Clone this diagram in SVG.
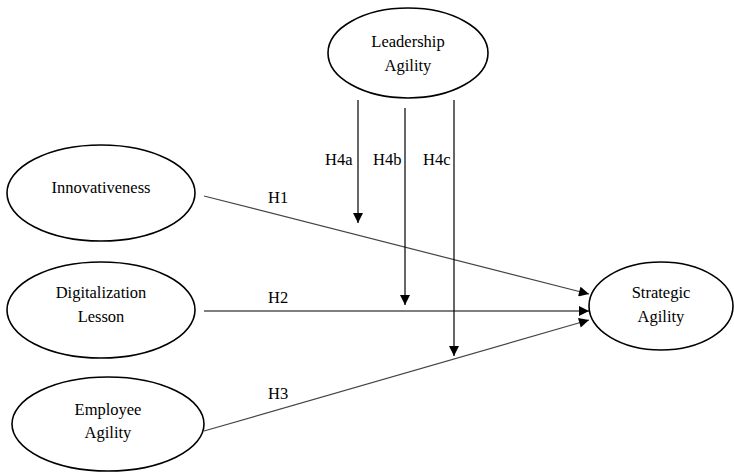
<svg xmlns="http://www.w3.org/2000/svg" width="734" height="474" viewBox="0 0 734 474">
<style>
text{font-family:'Liberation Serif','Times New Roman','DejaVu Serif',serif;font-size:16.5px;fill:#000}
.t{text-anchor:middle}
.n{fill:#fff;stroke:#000;stroke-width:1.6}
.c{stroke:#000;stroke-width:1.2;fill:none}
.g{stroke:#444;stroke-width:1.2;fill:none}
</style>
<defs>
<marker id="a" viewBox="0 0 10 10" refX="10" refY="5" markerWidth="10" markerHeight="10" markerUnits="userSpaceOnUse" orient="auto">
<path d="M0,0 L10,5 L0,10 z" fill="#000"/>
</marker>
<marker id="ag" viewBox="0 0 10 10" refX="10" refY="5" markerWidth="12" markerHeight="10" markerUnits="userSpaceOnUse" orient="auto">
<path d="M0,0 L10,5 L0,10 z" fill="#000"/>
</marker>
</defs>
<g id="connectors">
<line class="g" x1="204" y1="196" x2="589" y2="294" marker-end="url(#ag)"/>
<line class="c" x1="204" y1="311" x2="589" y2="311" marker-end="url(#ag)"/>
<line class="g" x1="204" y1="431" x2="589" y2="320" marker-end="url(#ag)"/>
<line class="c" x1="358" y1="100" x2="358" y2="223" marker-end="url(#a)"/>
<line class="c" x1="405" y1="108" x2="405" y2="305" marker-end="url(#a)"/>
<line class="c" x1="454" y1="100" x2="454" y2="356" marker-end="url(#a)"/>
<text x="268" y="203">H1</text>
<text x="268" y="303">H2</text>
<text x="268" y="399">H3</text>
<text x="325" y="165">H4a</text>
<text x="373" y="165">H4b</text>
<text x="423" y="165">H4c</text>
</g>
<g id="leadership">
<ellipse class="n" cx="408" cy="53" rx="80" ry="45"/>
<text class="t" x="408" y="47">Leadership</text>
<text class="t" x="408" y="71">Agility</text>
</g>
<g id="innovativeness">
<ellipse class="n" cx="101" cy="193" rx="94" ry="48"/>
<text class="t" x="101" y="193">Innovativeness</text>
</g>
<g id="digitalization">
<ellipse class="n" cx="101" cy="310" rx="94" ry="48"/>
<text class="t" x="101" y="298">Digitalization</text>
<text class="t" x="101" y="322">Lesson</text>
</g>
<g id="employee">
<ellipse class="n" cx="108" cy="424" rx="96" ry="47"/>
<text class="t" x="108" y="415">Employee</text>
<text class="t" x="108" y="438">Agility</text>
</g>
<g id="strategic">
<ellipse class="n" cx="661" cy="306" rx="72" ry="44"/>
<text class="t" x="661" y="298">Strategic</text>
<text class="t" x="661" y="322">Agility</text>
</g>
</svg>
